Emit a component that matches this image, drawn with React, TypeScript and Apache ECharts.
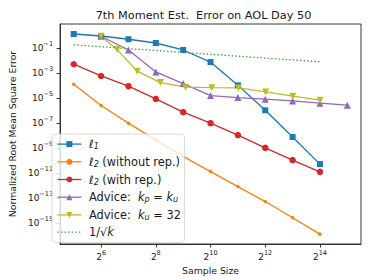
import React, { useEffect, useRef } from "react";
import * as echarts from "echarts";

const sizesBase = [32, 64, 128, 256, 512, 1024, 2048, 4096, 8192, 16384];
const sizesAdviceKp = [64, 128, 256, 512, 1024, 2048, 4096, 8192, 16384, 32768];
const sizesAdviceKu = [64, 96, 160, 288, 544, 1056, 2080, 4128, 8224, 16416];
const l1Err = [1.32, 0.91, 0.5, 0.25, 0.069, 7.4e-3, 1.02e-4, 1.02e-6, 7.4e-9, 5.0e-11];
const l2NoRepErr = [1.26e-4, 2.45e-6, 9.5e-8, 4.2e-9, 2.1e-10, 1.26e-11, 7.9e-13, 5.0e-14, 2.5e-15, 1.23e-16];
const l2RepErr = [5.0e-3, 5.75e-4, 8.7e-5, 8.3e-6, 7.2e-7, 9.5e-8, 1.05e-8, 1.0e-9, 1.05e-10, 1.2e-11];
const adviceKpErr = [0.87, 0.069, 1.2e-3, 1.4e-4, 1.55e-5, 1.07e-5, 7.9e-6, 5.75e-6, 3.8e-6, 2.6e-6];
const adviceKuErr = [0.87, 0.074, 1.38e-3, 1.7e-4, 7.2e-5, 6.6e-5, 6.3e-5, 3.0e-5, 1.38e-5, 6.6e-6];
const invSqrtK = [0.1768, 0.125, 0.0884, 0.0625, 0.0442, 0.03125, 0.0221, 0.01563, 0.01105, 0.00781];
const xTicks = [64, 256, 1024, 4096, 16384];
const yTicks = [1e-15, 1e-13, 1e-11, 1e-9, 1e-7, 1e-5, 1e-3, 1e-1];

const names = {
  l1: "ℓ₁",
  l2a: "ℓ₂ (without rep.)",
  l2b: "ℓ₂ (with rep.)",
  adv1: "Advice: kₚ = kᵤ",
  adv2: "Advice: kᵤ = 32",
  sq: "1/√k",
};
const legendRich: Record<string, string> = {
  [names.l1]: "{i|ℓ}{sub|1}",
  [names.l2a]: "{i|ℓ}{sub|2}{t| (without rep.)}",
  [names.l2b]: "{i|ℓ}{sub|2}{t| (with rep.)}",
  [names.adv1]: "{t|Advice:  }{i|k}{sub|p}{t| = }{i|k}{sub|u}",
  [names.adv2]: "{t|Advice:  }{i|k}{sub|u}{t| = 32}",
  [names.sq]: "{t|1/√}{i|k}",
};

const FONT = "DejaVu Sans";
const TXT = "#1a1a1a";
const LFS = 11.4;

const zip = (xs: number[], ys: number[]) => xs.map((x, i) => [x, ys[i]]);

export default function App() {
  const ref = useRef<HTMLDivElement>(null);
  useEffect(() => {
    if (!ref.current) return;
    const chart = echarts.init(ref.current, undefined, { renderer: "svg" });
    const line = (name: string, xs: number[], ys: number[], color: string, symbol: string, size: number, extra: any = {}) => ({
      name,
      type: "line",
      data: zip(xs, ys),
      symbol,
      symbolSize: size,
      showSymbol: true,
      itemStyle: { color, borderColor: color, borderWidth: 0 },
      lineStyle: { color, width: 1.3 },
      ...extra,
    });
    const tickRich = {
      b: { fontFamily: FONT, fontSize: 9, color: TXT },
      s: { fontFamily: FONT, fontSize: 6.5, color: TXT, padding: [0, 0, 8, 0] },
    };
    chart.setOption({
      animation: false,
      textStyle: { fontFamily: FONT },
      graphic: [
        {
          type: "text",
          x: 203.5,
          y: 15,
          style: {
            text: "7th Moment Est.  Error on AOL Day 50",
            fill: TXT,
            fontFamily: FONT,
            fontSize: 11.3,
            textAlign: "center",
            textVerticalAlign: "middle",
          },
        },
      ],
      grid: { left: 46, right: 13, top: 24, bottom: 36, show: true, borderColor: "#222", borderWidth: 0.9, backgroundColor: "#fff" },
      legend: {
        orient: "vertical",
        left: 52,
        top: 134,
        padding: [3.6, 3.5, 4.3, 4.7],
        itemWidth: 24,
        itemHeight: 7.5,
        itemGap: 4.7,
        backgroundColor: "rgba(255,255,255,0.8)",
        borderColor: "#d0d0d0",
        borderWidth: 0.8,
        borderRadius: 3,
        lineStyle: { width: 1.3 },
        data: [
          { name: names.l1 },
          { name: names.l2a },
          { name: names.l2b },
          { name: names.adv1 },
          { name: names.adv2 },
          { name: names.sq, itemStyle: { opacity: 0 } },
        ],
        formatter: (n: string) => legendRich[n] ?? n,
        textStyle: {
          fontFamily: FONT,
          fontSize: LFS,
          color: TXT,
          lineHeight: 12,
          padding: [0, 0, 0, 2.6],
          rich: {
            t: { fontFamily: FONT, fontSize: LFS, color: TXT, lineHeight: 12 },
            i: { fontFamily: FONT, fontSize: LFS, fontStyle: "italic", color: TXT, lineHeight: 12 },
            sub: { fontFamily: FONT, fontSize: 8, fontStyle: "italic", color: TXT, padding: [5, 0, 0, 0], lineHeight: 12 },
          },
        },
      },
      xAxis: {
        type: "log",
        logBase: 2,
        min: Math.pow(2, 4.5),
        max: Math.pow(2, 15.5),
        name: "Sample Size",
        nameLocation: "middle",
        nameGap: 16,
        nameTextStyle: { fontFamily: FONT, fontSize: 9.3, color: TXT },
        axisLine: { show: true, lineStyle: { color: "#222", width: 0.9 } },
        axisTick: { show: true, length: 3.5, lineStyle: { color: "#222", width: 0.9 }, customValues: xTicks },
        splitLine: { show: false },
        minorTick: { show: false },
        axisLabel: {
          customValues: xTicks,
          margin: 5,
          fontFamily: FONT,
          formatter: (v: number) => `{b|2}{s|${Math.round(Math.log2(v))}}`,
          rich: tickRich,
        },
      },
      yAxis: {
        type: "log",
        logBase: 10,
        min: Math.pow(10, -16.7),
        max: Math.pow(10, 0.92),
        name: "Normalized Root Mean Square Error",
        nameLocation: "middle",
        nameGap: 35,
        nameTextStyle: { fontFamily: FONT, fontSize: 9.3, color: TXT },
        axisLine: { show: true, lineStyle: { color: "#222", width: 0.9 } },
        axisTick: { show: true, length: 3.5, lineStyle: { color: "#222", width: 0.9 }, customValues: yTicks },
        splitLine: { show: false },
        minorTick: { show: false },
        axisLabel: {
          customValues: yTicks,
          margin: 7,
          fontFamily: FONT,
          formatter: (v: number) => `{b|10}{s|−${Math.abs(Math.round(Math.log10(v)))}}`,
          rich: tickRich,
        },
      },
      series: [
        line(names.l1, sizesBase, l1Err, "#1f77b4", "rect", 6),
        line(names.l2a, sizesBase, l2NoRepErr, "#ff7f0e", "circle", 3.5),
        line(names.l2b, sizesBase, l2RepErr, "#d62728", "circle", 6.5),
        line(names.adv1, sizesAdviceKp, adviceKpErr, "#9467bd", "triangle", 7),
        line(names.adv2, sizesAdviceKu, adviceKuErr, "#bcbd22", "triangle", 7, { symbolRotate: 180 }),
        line(names.sq, sizesBase, invSqrtK, "#2ca02c", "none", 0, { lineStyle: { color: "#2ca02c", width: 1.3, type: [1.4, 2.2] } }),
      ],
    });
    return () => chart.dispose();
  }, []);
  return <div ref={ref} style={{ position: "fixed", left: 0, top: 0, width: 374, height: 280, background: "#fff" }} />;
}
